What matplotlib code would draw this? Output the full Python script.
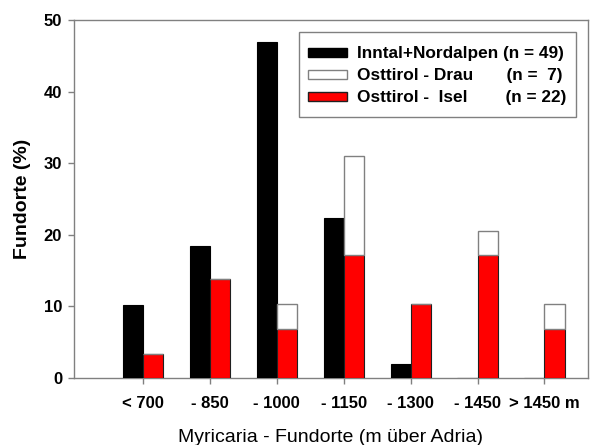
import matplotlib
matplotlib.use("Agg")
import matplotlib.pyplot as plt
from matplotlib.patches import Patch, Rectangle
from matplotlib.legend_handler import HandlerPatch
import numpy as np

categories = ["< 700", "- 850", "- 1000", "- 1150", "- 1300", "- 1450", "> 1450 m"]
inntal = [10.2, 18.4, 46.9, 22.4, 2.0, 0.0, 0.0]
isel = [3.4, 13.8, 6.9, 17.2, 10.3, 17.2, 6.9]
drau = [0.0, 0.0, 3.4, 13.8, 0.0, 3.4, 3.4]
legend_labels = ["Inntal+Nordalpen (n = 49)",
                 "Osttirol - Drau       (n =  7)",
                 "Osttirol -  Isel        (n = 22)"]

plt.rcParams['font.family'] = ['Liberation Sans', 'DejaVu Sans']

fig = plt.figure(figsize=(5.93, 4.45), dpi=100)
ax = fig.add_axes([74/593, 1-378/445, (588-74)/593, (378-20)/445])

x = np.arange(len(categories))
w = 0.3
ax.bar(x - w/2, inntal, width=w, color='black', edgecolor='black', linewidth=0.8, zorder=3)
ax.bar(x + w/2, isel, width=w, color='#ff0000', edgecolor='#202020', linewidth=0.8, zorder=3)
ax.bar(x + w/2, drau, width=w, bottom=isel, color='white', edgecolor='#808080', linewidth=1.0, zorder=3)

ax.set_xlim(-1.03, 6.65)
ax.set_ylim(0, 50)
ax.set_yticks([0, 10, 20, 30, 40, 50])
ax.set_xticks(x)
ax.set_xticklabels(categories)

for s in ax.spines.values():
    s.set_color('#808080')
    s.set_linewidth(1.0)
ax.tick_params(axis='both', direction='out', length=4, color='#808080', width=1.0,
               labelsize=12)
ax.tick_params(axis='x', pad=9)
ax.tick_params(axis='y', pad=4.5)
for lab in ax.get_xticklabels() + ax.get_yticklabels():
    lab.set_fontweight('bold')

ax.set_ylabel("Fundorte (%)", fontsize=14, fontweight='bold', labelpad=9)
ax.set_xlabel("Myricaria - Fundorte (m über Adria)", fontsize=14, labelpad=13)


def thin_patch(legend, orig_handle, xdescent, ydescent, width, height, fontsize):
    h = 0.52 * fontsize
    return Rectangle((-xdescent, -ydescent + (height - h) / 2), width, h)


handles = [Patch(facecolor='black', edgecolor='black'),
           Patch(facecolor='white', edgecolor='#808080'),
           Patch(facecolor='#ff0000', edgecolor='#202020')]
leg = ax.legend(handles, legend_labels,
                loc='upper right', bbox_to_anchor=((576-74)/514, (378-32)/358),
                prop={'weight': 'bold', 'size': 12.4}, frameon=True, fancybox=False,
                edgecolor='#808080', framealpha=1, borderpad=0.55,
                handlelength=2.27, handleheight=1.59, handletextpad=0.58,
                labelspacing=0.0, borderaxespad=0,
                handler_map={Patch: HandlerPatch(patch_func=thin_patch)})
leg.get_frame().set_linewidth(1.0)
leg.set_zorder(5)

fig.savefig("out.png", dpi=100)
